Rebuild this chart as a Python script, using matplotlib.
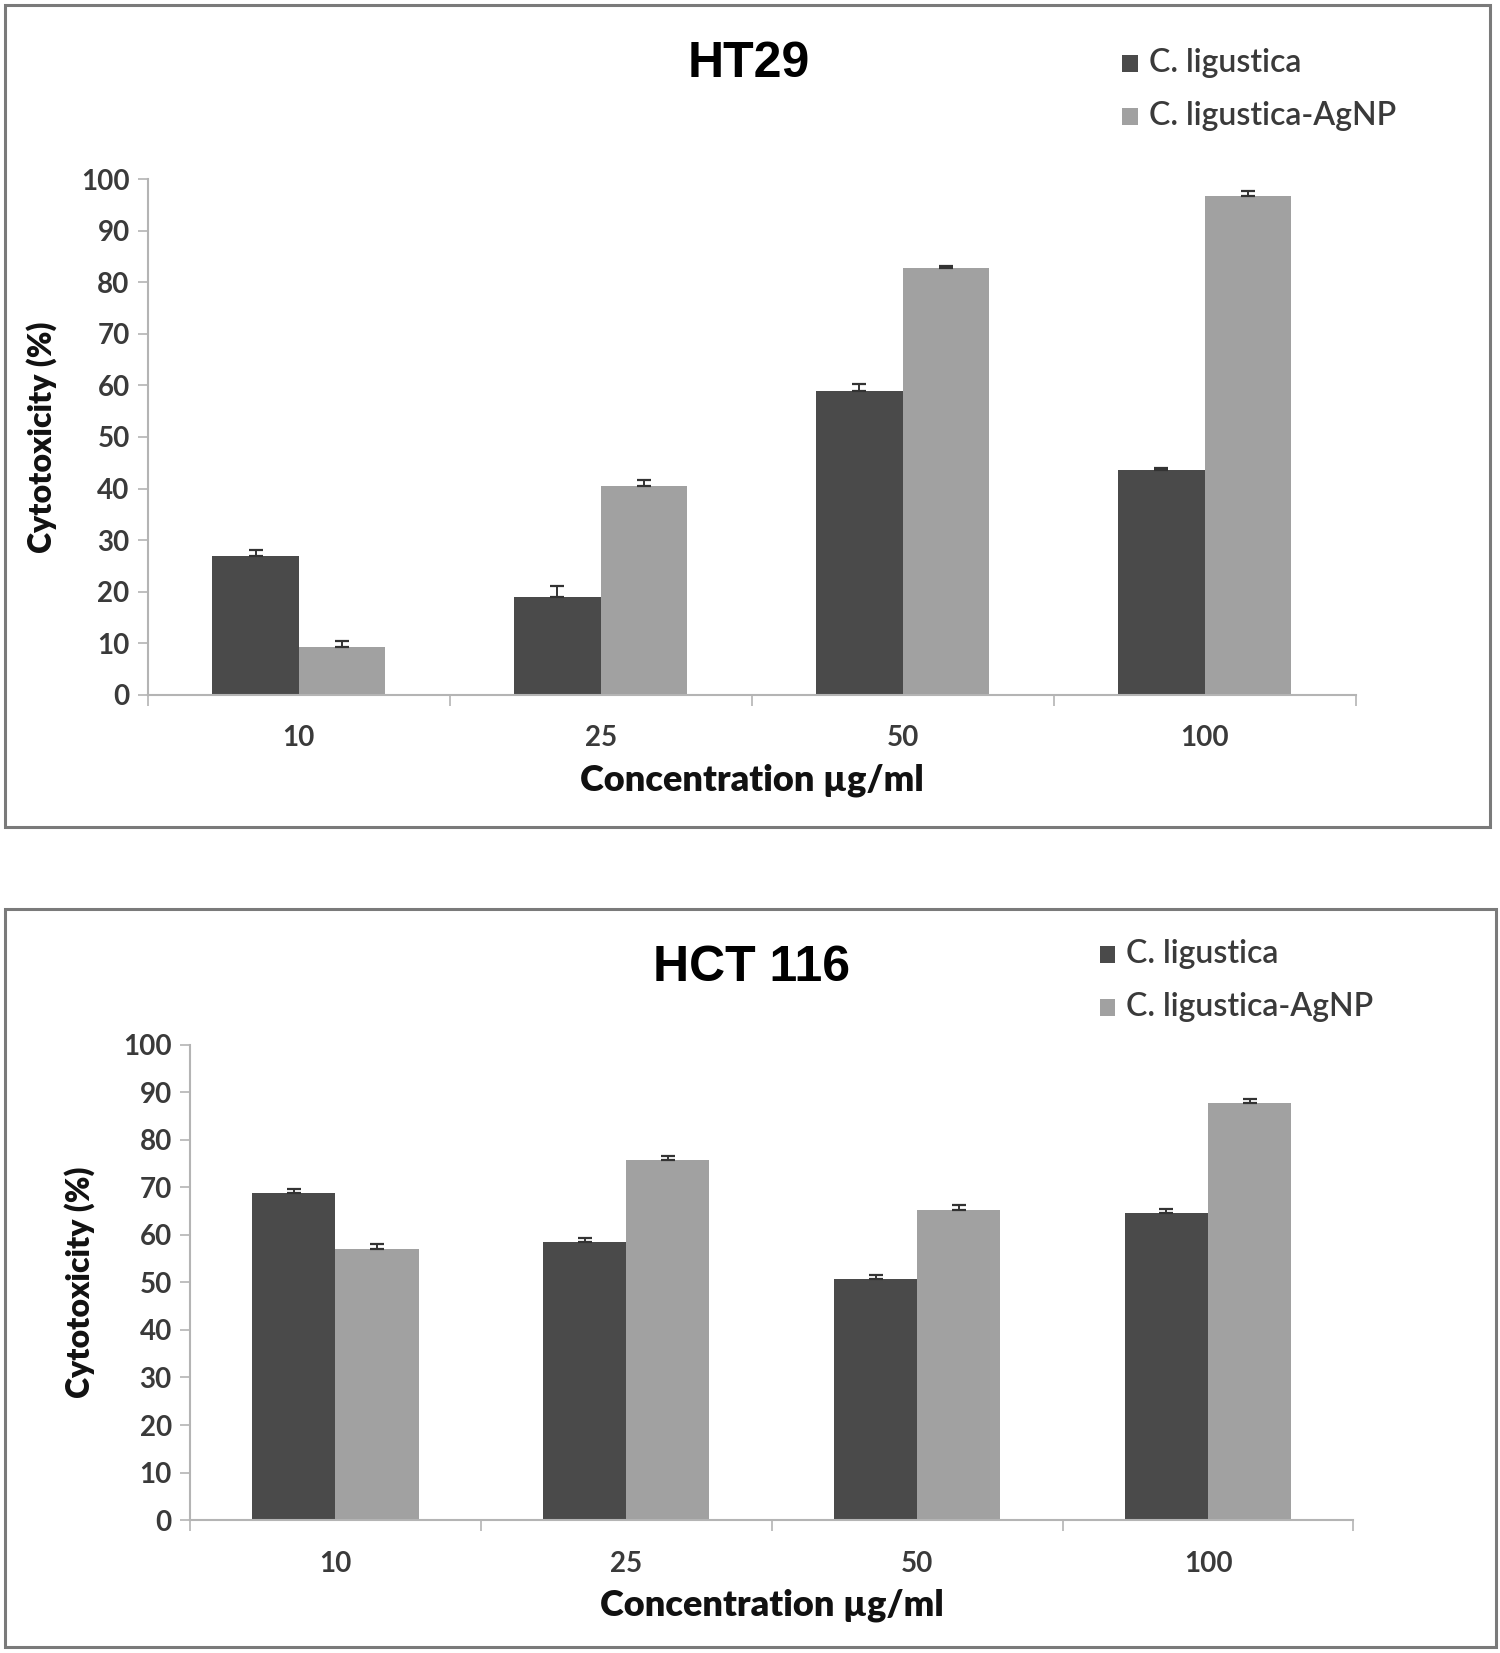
import matplotlib
matplotlib.use("Agg")
import matplotlib.pyplot as plt
import numpy as np
from matplotlib.patches import Rectangle

# concentrations (µg/ml)
concentrations = ["10", "25", "50", "100"]
series_names = ["C. ligustica", "C. ligustica-AgNP"]

# HT29 cytotoxicity (%)
ht29_extract = [27.0, 19.0, 59.0, 43.5]
ht29_extract_err = [1.0, 2.0, 1.3, 0.5]
ht29_agnp = [9.3, 40.5, 82.7, 96.8]
ht29_agnp_err = [1.2, 1.2, 0.5, 1.0]

# HCT 116 cytotoxicity (%)
hct116_extract = [68.8, 58.5, 50.7, 64.5]
hct116_extract_err = [0.8, 0.9, 0.8, 1.0]
hct116_agnp = [57.0, 75.8, 65.3, 87.7]
hct116_agnp_err = [1.0, 0.8, 1.0, 0.8]

DARK = "#4a4a4a"
LIGHT = "#a1a1a1"
AXIS = "#b4b4b4"
TXT = "#3a3a3a"
FONT = "Lato"

fig = plt.figure(figsize=(15, 16.53), dpi=100)


def frame(x0, y0, x1, y1):
    fig.patches.append(Rectangle((x0, y0), x1 - x0, y1 - y0, transform=fig.transFigure,
                                 fill=False, edgecolor="#7a7a7a", linewidth=2.2))


def panel(rect, title, title_xy, leg_x, leg_ys, a, a_err, b, b_err, ylab_x, xlab_y, tick_pad):
    ax = fig.add_axes(rect)
    x = np.arange(len(concentrations))
    w = 0.286
    ax.bar(x - w / 2, a, w, color=DARK, zorder=2)
    ax.bar(x + w / 2, b, w, color=LIGHT, zorder=2)
    ax.errorbar(x - w / 2, a, yerr=[np.zeros(len(a)), a_err], fmt="none",
                ecolor="#333333", elinewidth=1.4, capsize=5, capthick=1.6, zorder=3)
    ax.errorbar(x + w / 2, b, yerr=[np.zeros(len(b)), b_err], fmt="none",
                ecolor="#333333", elinewidth=1.4, capsize=5, capthick=1.6, zorder=3)
    ax.set_xlim(-0.5, len(concentrations) - 0.5)
    ax.set_ylim(0, 100)
    ax.set_yticks(np.arange(0, 101, 10))
    ax.set_xticks(x)
    ax.set_xticklabels(concentrations)
    ax.set_xticks(np.arange(-0.5, len(concentrations), 1), minor=True)
    ax.tick_params(axis="x", which="major", length=0, pad=tick_pad)
    ax.tick_params(axis="x", which="minor", length=8, width=1.2, color=AXIS, direction="out")
    ax.tick_params(axis="y", length=7, width=1.2, color=AXIS, pad=6)
    for lab in ax.get_xticklabels() + ax.get_yticklabels():
        lab.set_fontfamily(FONT)
        lab.set_fontsize(20)
        lab.set_color(TXT)
        lab.set_fontweight("bold")
    for s in ["top", "right"]:
        ax.spines[s].set_visible(False)
    for s in ["left", "bottom"]:
        ax.spines[s].set_color(AXIS)
        ax.spines[s].set_linewidth(1.5)
    fig.text(ylab_x, rect[1] + rect[3] / 2, "Cytotoxicity (%)", rotation=90, ha="center",
             va="center", fontsize=23, fontweight="heavy", family=FONT, color="#111111")
    fig.text(rect[0] + rect[2] / 2, xlab_y, "Concentration µg/ml", ha="center",
             va="center", fontsize=26, fontweight="heavy", family=FONT, color="#111111")
    fig.text(title_xy[0], title_xy[1], title, ha="center", va="center", fontsize=36,
             fontweight="bold", family="Liberation Sans", color="#000000")
    for name, col, ly in zip(series_names, [DARK, LIGHT], leg_ys):
        fig.patches.append(Rectangle((leg_x, ly - 0.0055), 0.0105, 0.0105,
                                     transform=fig.transFigure, facecolor=col, edgecolor="none"))
        fig.text(leg_x + 0.018, ly, name, ha="left", va="center", fontsize=23,
                 fontweight="semibold", family=FONT, color=TXT)
    return ax


frame(0.0035, 0.4994, 0.993, 0.997)
frame(0.0035, 0.0038, 0.997, 0.4503)

panel([0.0985, 0.5797, 0.8052, 0.3119], "HT29", (0.499, 0.961), 0.748, [0.9617, 0.9298],
      ht29_extract, ht29_extract_err, ht29_agnp, ht29_agnp_err,
      ylab_x=0.028, xlab_y=0.528, tick_pad=22)
panel([0.1266, 0.0804, 0.7757, 0.2876], "HCT 116", (0.5007, 0.4142), 0.733, [0.4228, 0.3909],
      hct116_extract, hct116_extract_err, hct116_agnp, hct116_agnp_err,
      ylab_x=0.053, xlab_y=0.029, tick_pad=22)

fig.savefig("out.png", dpi=100, facecolor="white")
